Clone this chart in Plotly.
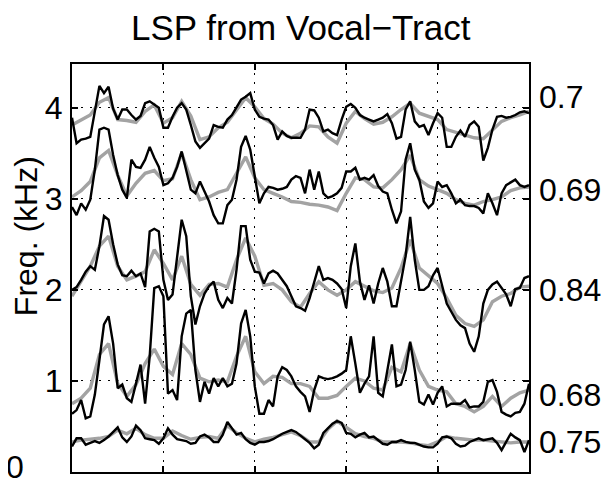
import plotly.graph_objects as go

# frame positions (x categories)
frames_black = [i * 2.5 for i in range(101)]
frames_gray = [i * 5 for i in range(51)]

# LSP tracks, kHz  (black = measured, gray = from vocal tract)
lsp5_black = [3.89, 3.61, 3.65, 3.66, 3.68, 3.98, 4.24, 4.16, 4.23, 3.99,
              3.87, 3.98, 3.98, 3.92, 3.87, 3.91, 4.05, 4.07, 4.03, 4.00,
              3.78, 3.78, 3.90, 4.00, 4.05, 3.98, 3.81, 3.63, 3.56, 3.61,
              3.66, 3.81, 3.79, 3.78, 3.87, 3.92, 4.01, 4.09, 4.12, 4.16,
              3.98, 3.90, 3.88, 3.87, 3.81, 3.65, 3.74, 3.69, 3.67, 3.67,
              3.67, 3.76, 3.98, 3.97, 3.89, 3.74, 3.76, 3.72, 3.70, 3.87,
              4.01, 4.04, 4.00, 3.92, 3.89, 3.87, 3.85, 3.87, 3.89, 3.93,
              3.83, 3.66, 3.68, 3.98, 4.07, 3.85, 3.79, 3.81, 3.70, 3.83,
              3.94, 3.89, 3.57, 3.57, 3.68, 3.75, 3.68, 3.81, 3.85, 3.79,
              3.42, 3.56, 3.76, 3.90, 3.91, 3.89, 3.90, 3.92, 3.95, 3.96,
              3.94]
lsp5_gray = [3.81, 3.86, 3.92, 4.06, 4.11, 3.87, 3.86, 3.84, 3.96, 4.03,
             3.83, 3.89, 4.07, 3.91, 3.65, 3.68, 3.78, 3.84, 3.98, 4.11,
             4.01, 3.88, 3.82, 3.72, 3.67, 3.72, 3.80, 3.79, 3.68, 3.61,
             3.83, 3.96, 3.88, 3.82, 3.84, 3.90, 3.98, 4.05, 3.94, 3.90,
             3.87, 3.76, 3.73, 3.70, 3.67, 3.66, 3.76, 3.85, 3.89, 3.92,
             3.96]

lsp4_black = [2.91, 2.82, 2.95, 2.88, 2.99, 3.32, 3.76, 3.78, 3.76, 3.48,
              3.26, 3.10, 3.01, 3.43, 3.35, 3.34, 3.43, 3.57, 3.45, 3.35,
              3.15, 3.17, 3.23, 3.35, 3.52, 3.30, 3.10, 3.06, 3.19, 3.08,
              2.97, 2.82, 2.73, 2.73, 2.93, 2.99, 3.21, 3.57, 3.69, 3.54,
              3.25, 2.95, 3.06, 3.13, 3.12, 3.10, 3.11, 3.13, 3.21, 3.25,
              3.23, 3.06, 3.32, 3.10, 3.30, 3.06, 3.01, 3.03, 3.06, 3.12,
              3.30, 3.30, 3.34, 3.21, 3.23, 3.21, 3.26, 3.14, 3.08, 3.06,
              2.88, 2.73, 2.86, 3.43, 3.61, 3.32, 3.21, 2.97, 2.90, 2.95,
              3.19, 3.13, 3.15, 3.06, 2.95, 2.99, 2.93, 2.92, 2.92, 2.90,
              2.84, 3.06, 2.95, 2.82, 3.06, 3.15, 3.18, 3.21, 3.15, 3.13,
              3.15]
lsp4_gray = [3.02, 3.09, 3.19, 3.45, 3.53, 3.26, 3.03, 3.17, 3.28, 3.31,
             3.20, 3.22, 3.50, 3.21, 2.99, 3.02, 3.07, 3.10, 3.28, 3.46,
             3.23, 3.10, 3.06, 3.02, 2.97, 2.96, 2.94, 2.93, 2.91, 2.87,
             3.06, 3.23, 3.21, 3.13, 3.12, 3.21, 3.32, 3.48, 3.21, 3.14,
             3.10, 3.06, 2.99, 2.95, 2.93, 2.97, 2.99, 3.02, 3.09, 3.12,
             3.13]

lsp3_black = [2.00, 2.03, 2.11, 2.20, 2.26, 2.22, 2.48, 2.81, 2.77, 2.50,
              2.28, 2.16, 2.15, 2.21, 2.15, 2.18, 2.03, 2.64, 2.67, 2.64,
              2.11, 1.89, 1.95, 2.37, 2.77, 2.59, 1.93, 1.62, 1.82, 1.96,
              2.04, 2.09, 1.89, 1.80, 1.91, 1.85, 2.22, 2.70, 2.70, 2.33,
              2.20, 2.19, 2.07, 2.18, 2.21, 2.18, 2.11, 2.04, 1.93, 1.82,
              1.80, 1.77, 1.91, 2.09, 2.26, 2.11, 2.13, 2.11, 2.07, 2.01,
              1.80, 2.26, 2.51, 2.09, 1.89, 2.05, 1.85, 2.07, 2.24, 2.09,
              1.82, 1.82, 2.09, 2.37, 2.80, 2.33, 2.00, 2.00, 2.04, 2.16,
              2.24, 2.04, 1.85, 1.76, 1.67, 1.61, 1.58, 1.41, 1.32, 1.49,
              1.85, 2.00, 2.06, 2.09, 2.02, 1.95, 1.82, 2.01, 2.02, 2.13,
              2.15]
lsp3_gray = [1.93, 2.10, 2.26, 2.48, 2.59, 2.26, 2.11, 2.15, 2.20, 2.44,
             2.29, 2.11, 2.37, 2.06, 1.94, 2.06, 2.07, 2.03, 2.33, 2.57,
             2.37, 2.05, 2.07, 2.00, 1.87, 1.81, 1.96, 2.09, 2.00, 1.94,
             2.00, 2.09, 2.04, 1.99, 1.97, 2.02, 2.24, 2.55, 2.24, 2.15,
             2.07, 1.91, 1.72, 1.63, 1.60, 1.67, 1.87, 1.93, 1.96, 2.03,
             2.04]

lsp2_black = [0.64, 0.68, 0.79, 0.59, 0.61, 0.85, 1.23, 1.62, 1.71, 1.41,
              0.92, 0.96, 0.81, 0.77, 0.97, 1.18, 0.75, 1.27, 2.02, 2.04,
              1.93, 0.86, 0.90, 0.79, 1.49, 1.74, 1.78, 1.12, 0.77, 0.99,
              0.86, 1.03, 0.94, 1.03, 0.94, 0.97, 1.19, 1.63, 1.78, 1.49,
              0.94, 0.64, 0.64, 0.79, 0.72, 1.05, 1.15, 1.12, 1.05, 0.94,
              0.88, 0.83, 0.66, 0.90, 1.05, 1.03, 1.02, 1.03, 1.05, 1.08,
              1.12, 1.49, 1.19, 0.87, 0.97, 1.05, 1.49, 0.87, 0.83, 1.12,
              1.40, 0.94, 0.96, 1.12, 1.43, 1.12, 0.77, 0.74, 0.85, 0.74,
              0.87, 0.94, 0.72, 0.75, 0.75, 0.75, 0.79, 0.71, 0.72, 0.72,
              0.77, 0.99, 1.01, 0.88, 0.66, 0.63, 0.61, 0.65, 0.66, 0.75,
              0.97]
lsp2_gray = [0.75, 0.81, 0.92, 1.29, 1.41, 0.97, 0.83, 0.96, 1.19, 1.35,
             1.16, 1.07, 1.41, 1.29, 1.03, 0.99, 1.01, 0.99, 1.27, 1.49,
             1.10, 0.97, 1.05, 1.04, 0.97, 0.97, 0.94, 0.81, 0.81, 0.84,
             0.94, 1.03, 1.00, 0.92, 0.90, 1.15, 1.10, 1.41, 1.12, 0.94,
             0.90, 0.88, 0.75, 0.72, 0.66, 0.72, 0.83, 0.72, 0.81, 0.87,
             0.90]

lsp1_black = [0.28, 0.37, 0.37, 0.30, 0.32, 0.34, 0.32, 0.35, 0.39, 0.44,
              0.49, 0.38, 0.33, 0.39, 0.51, 0.46, 0.37, 0.36, 0.35, 0.31,
              0.37, 0.48, 0.41, 0.36, 0.35, 0.34, 0.31, 0.32, 0.39, 0.41,
              0.38, 0.33, 0.33, 0.41, 0.55, 0.48, 0.41, 0.43, 0.36, 0.32,
              0.30, 0.33, 0.33, 0.34, 0.36, 0.39, 0.42, 0.44, 0.46, 0.44,
              0.40, 0.35, 0.32, 0.26, 0.30, 0.43, 0.48, 0.53, 0.56, 0.54,
              0.43, 0.42, 0.38, 0.41, 0.43, 0.38, 0.39, 0.35, 0.31, 0.30,
              0.33, 0.33, 0.35, 0.33, 0.32, 0.32, 0.30, 0.28, 0.27, 0.27,
              0.31, 0.38, 0.39, 0.37, 0.31, 0.28, 0.29, 0.33, 0.35, 0.37,
              0.35, 0.36, 0.37, 0.32, 0.24, 0.33, 0.42, 0.38, 0.35, 0.22,
              0.35]
lsp1_gray = [0.33, 0.35, 0.36, 0.37, 0.39, 0.46, 0.42, 0.48, 0.41, 0.37,
             0.37, 0.45, 0.40, 0.36, 0.38, 0.39, 0.37, 0.51, 0.43, 0.37,
             0.33, 0.36, 0.38, 0.41, 0.44, 0.40, 0.33, 0.33, 0.47, 0.56,
             0.49, 0.42, 0.39, 0.37, 0.33, 0.33, 0.33, 0.32, 0.30, 0.29,
             0.33, 0.39, 0.37, 0.36, 0.35, 0.35, 0.34, 0.33, 0.32, 0.33,
             0.33]

# correlation labels on the right, and the track level each one sits at
corr_labels = ["0.7", "0.69", "0.84", "0.68", "0.75"]
corr_label_y = [4.12, 3.10, 2.00, 0.85, 0.33]

y_ticks = [0, 1, 2, 3, 4]
y_ticktext = ["", "1", "2", "3", "4"]   # the "0" is drawn further left, as in the original
x_grid = [50, 100, 150, 200]

FONT = "Liberation Sans, Arial, Helvetica, sans-serif"

fig = go.Figure()
grays = [lsp5_gray, lsp4_gray, lsp3_gray, lsp2_gray, lsp1_gray]
blacks = [lsp5_black, lsp4_black, lsp3_black, lsp2_black, lsp1_black]
for g in grays:
    fig.add_trace(go.Scatter(x=frames_gray, y=g, mode="lines",
                             line=dict(color="#a3a3a3", width=3.4),
                             hoverinfo="skip"))
for b in blacks:
    fig.add_trace(go.Scatter(x=frames_black, y=b, mode="lines",
                             line=dict(color="black", width=2.4),
                             hoverinfo="skip"))

axis_common = dict(showline=True, linecolor="black", linewidth=2, mirror="ticks",
                   ticks="inside", ticklen=6, tickcolor="black", tickwidth=1.5,
                   showgrid=True, gridcolor="black", gridwidth=1.4,
                   griddash="2px,7px", zeroline=False)

fig.update_xaxes(range=[0, 250], tickvals=x_grid, showticklabels=False, **axis_common)
fig.update_yaxes(range=[0, 4.48], tickvals=y_ticks, ticktext=y_ticktext,
                 tickfont=dict(size=32, family=FONT, color="black"),
                 ticklabelstandoff=1, **axis_common)

annotations = [
    dict(text="LSP from Vocal\u2212Tract", x=0.5, xref="paper", y=1, yref="paper",
         xanchor="center", yanchor="middle", yshift=37, showarrow=False,
         font=dict(size=35, family=FONT, color="black")),
    dict(text="Freq. (kHz)", x=0, xref="paper", xshift=-46, xanchor="center",
         y=2.59, yref="y", yanchor="middle", textangle=-90, showarrow=False,
         font=dict(size=32, family=FONT, color="black")),
    dict(text="0", x=0, xref="paper", xshift=-57, xanchor="center",
         y=0, yref="y", yanchor="middle", yshift=5, showarrow=False,
         font=dict(size=32, family=FONT, color="black")),
]
for lab, yv in zip(corr_labels, corr_label_y):
    annotations.append(dict(text=lab, x=1, xref="paper", xshift=8, xanchor="left",
                            y=yv, yref="y", yanchor="middle", showarrow=False,
                            font=dict(size=32, family=FONT, color="black")))

# the page body adds an 8px offset, so the figure is sized to fit the window
fig.update_layout(width=602, height=476, margin=dict(l=64, r=81, t=56, b=12),
                  paper_bgcolor="white", plot_bgcolor="white", showlegend=False,
                  font=dict(family=FONT, size=32, color="black"),
                  annotations=annotations)

fig.write_html("out.html")
